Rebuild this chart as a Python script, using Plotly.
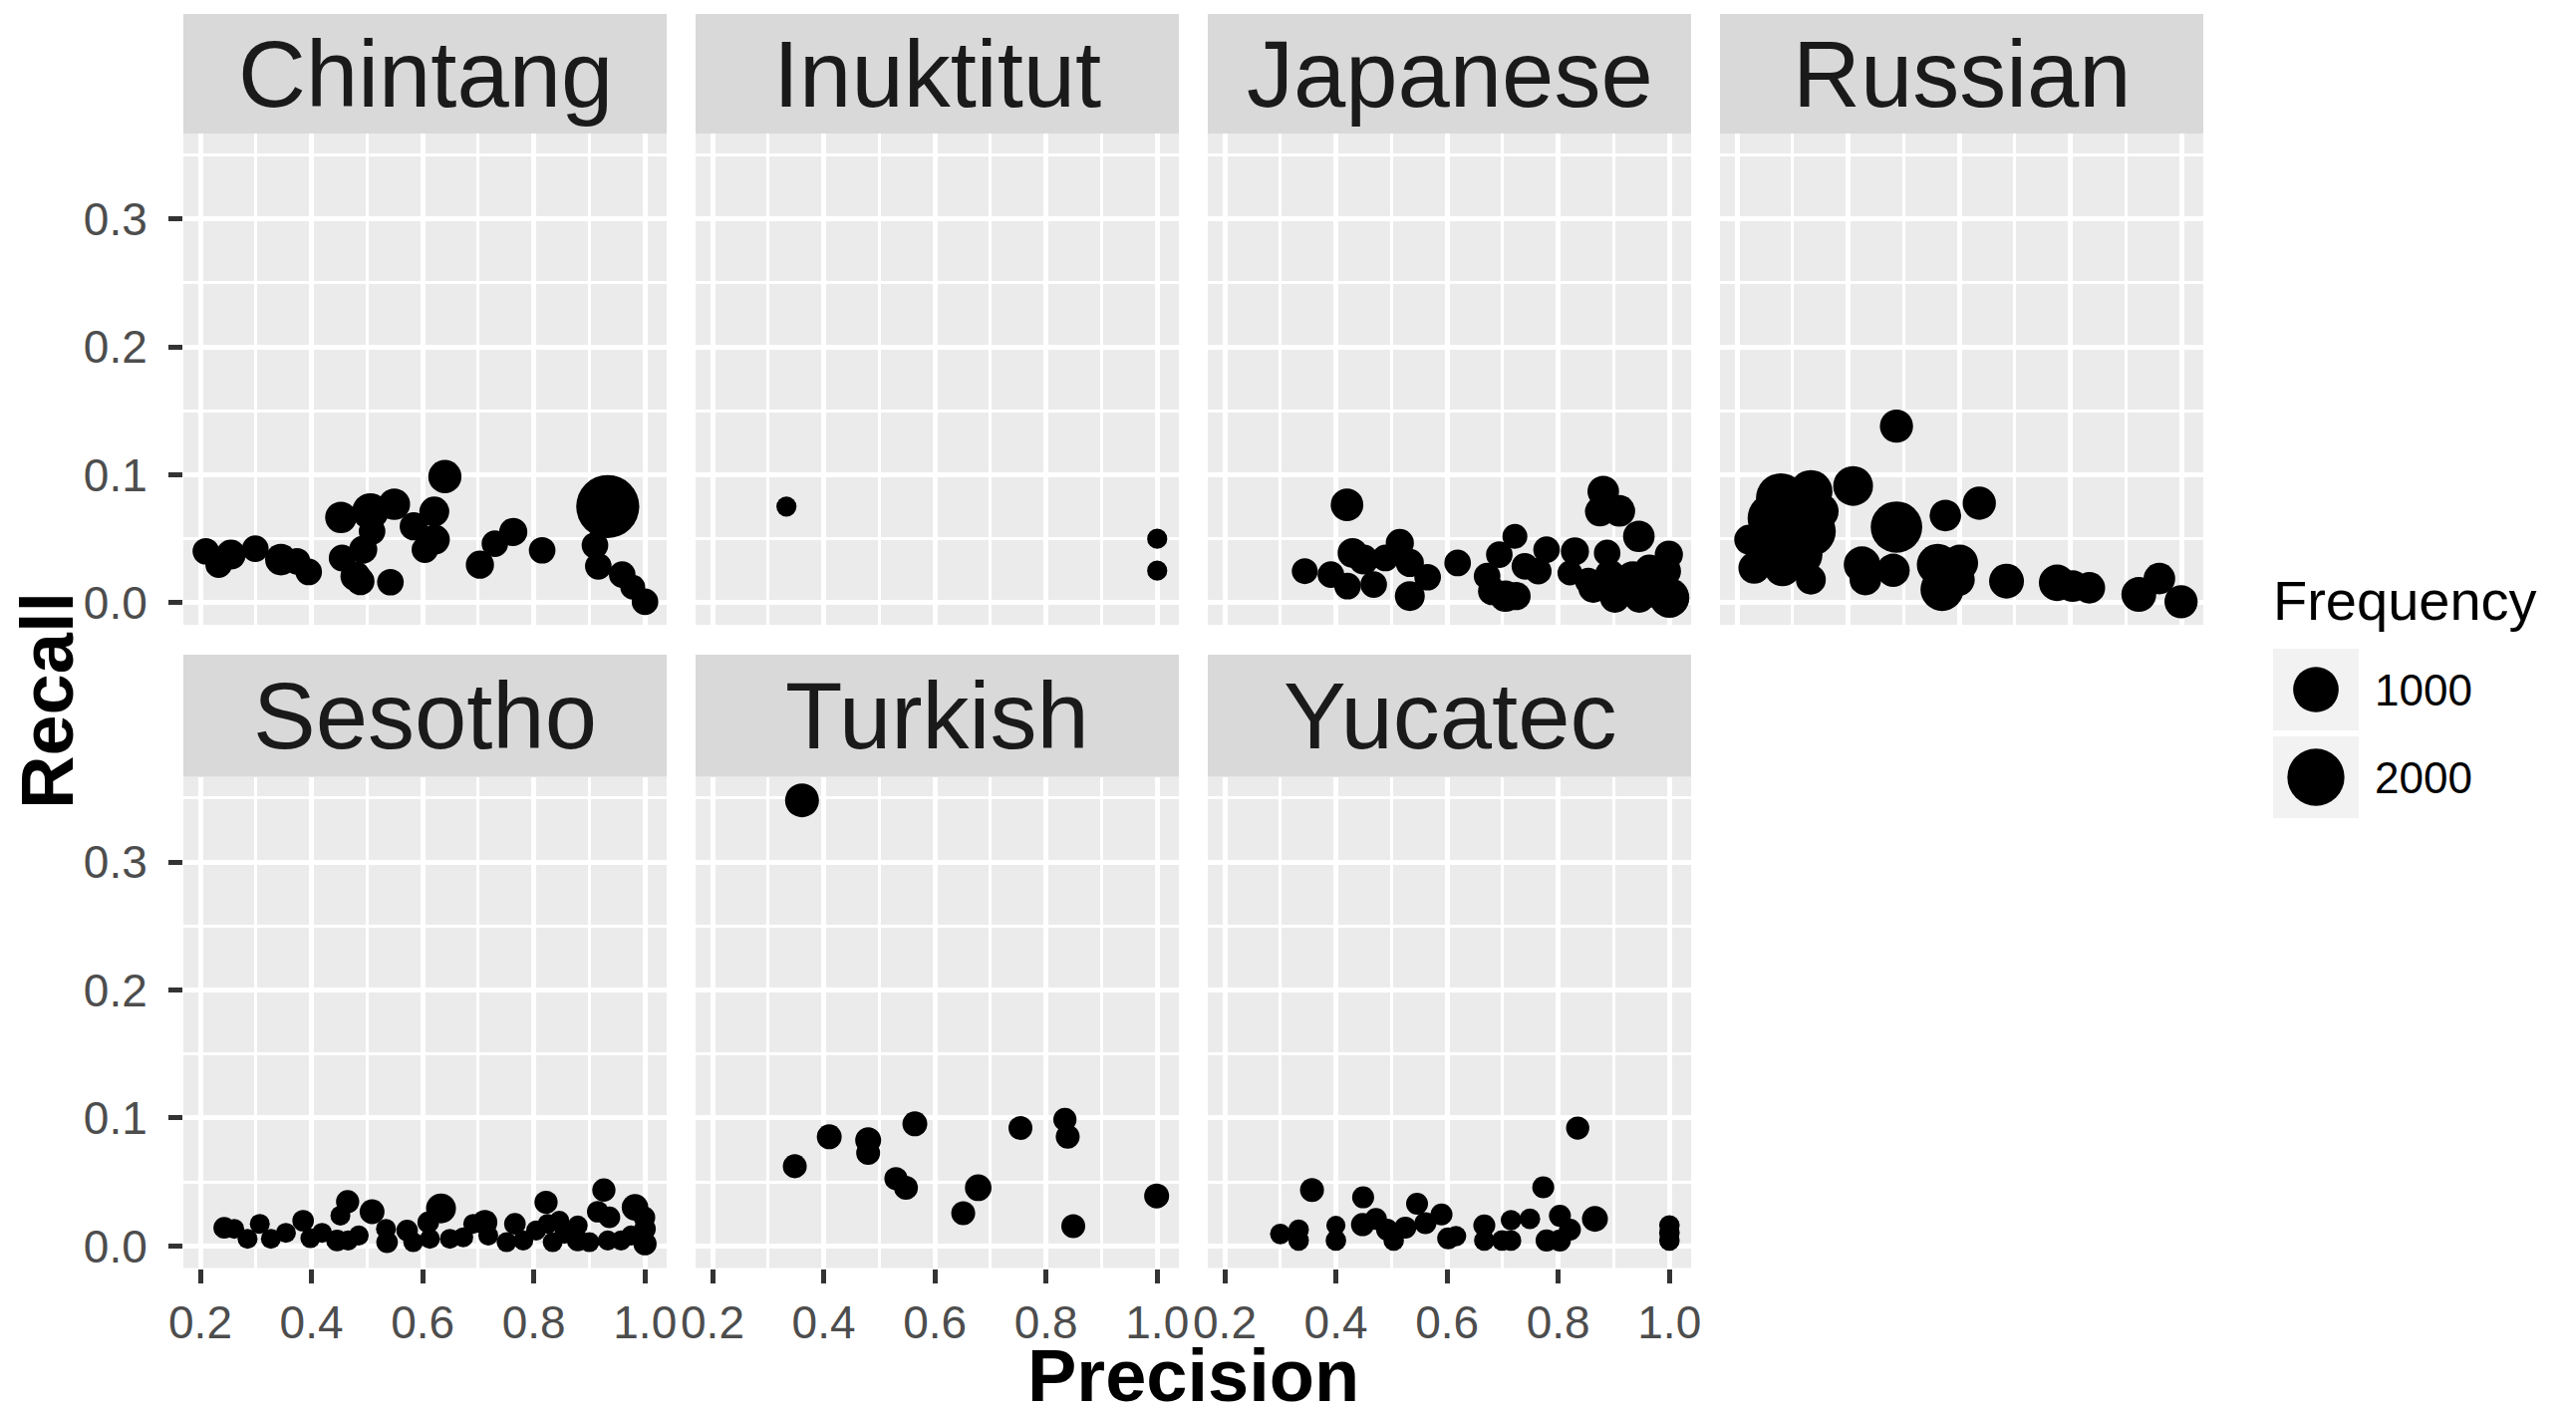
import math
import plotly.graph_objects as go

W, H = 2585, 1416
FONT = "Liberation Sans, Arial, Helvetica, sans-serif"

languages = ["Chintang", "Inuktitut", "Japanese", "Russian", "Sesotho", "Turkish", "Yucatec"]

chintang_precision = [0.210, 0.233, 0.255, 0.299, 0.345, 0.374, 0.395, 0.453, 0.506, 0.549,
                      0.509, 0.493, 0.455, 0.479, 0.488, 0.542, 0.640, 0.621, 0.584, 0.622,
                      0.604, 0.703, 0.730, 0.763, 0.815, 0.933, 0.910, 0.916, 0.959, 0.978, 1.000]
chintang_recall = [0.0402, 0.0298, 0.0376, 0.0423, 0.0337, 0.0324, 0.0241, 0.0667, 0.0713, 0.0770,
                   0.0558, 0.0415, 0.0350, 0.0208, 0.0169, 0.0161, 0.0986, 0.0713, 0.0597, 0.0493,
                   0.0415, 0.0298, 0.0462, 0.0553, 0.0410, 0.0752, 0.0449, 0.0285, 0.0220, 0.0122, 0.0008]
chintang_frequency = [103, 103, 193, 103, 250, 103, 103, 250, 460, 250,
                      103, 143, 103, 193, 143, 103, 311, 193, 143, 193,
                      103, 143, 103, 143, 103, 2652, 103, 103, 103, 68, 103]

inuktitut_precision = [0.333, 1.000, 1.000]
inuktitut_recall = [0.0752, 0.0500, 0.0251]
inuktitut_frequency = [8, 8, 8]

japanese_precision = [0.420, 0.344, 0.391, 0.430, 0.421, 0.450, 0.468, 0.489, 0.515, 0.533,
                      0.565, 0.533, 0.619, 0.722, 0.694, 0.672, 0.681, 0.705, 0.725, 0.740,
                      0.764, 0.779, 0.830, 0.821, 0.881, 0.875, 0.910, 0.888, 0.945, 0.999,
                      0.863, 0.902, 0.934, 0.964, 1.000, 0.946, 0.994, 0.893, 0.964, 0.854]
japanese_recall = [0.0765, 0.0247, 0.0220, 0.0389, 0.0130, 0.0337, 0.0143, 0.0350, 0.0467, 0.0311,
                   0.0200, 0.0052, 0.0311, 0.0519, 0.0376, 0.0208, 0.0091, 0.0052, 0.0052, 0.0285,
                   0.0247, 0.0415, 0.0402, 0.0233, 0.0869, 0.0713, 0.0718, 0.0389, 0.0519, 0.0376,
                   0.0117, 0.0039, 0.0195, 0.0091, 0.0039, 0.0039, 0.0247, 0.0220, 0.0260, 0.0169]
japanese_frequency = [287, 88, 103, 193, 103, 193, 103, 103, 143, 143,
                      103, 193, 103, 68, 103, 103, 143, 250, 143, 103,
                      103, 103, 143, 68, 250, 193, 250, 103, 250, 143,
                      193, 193, 311, 311, 634, 193, 193, 193, 193, 103]

russian_precision = [0.487, 0.409, 0.487, 0.575, 0.636, 0.425, 0.431, 0.481, 0.561, 0.601,
                     0.598, 0.569, 0.685, 0.776, 0.804, 0.834, 0.923, 0.960, 0.999,
                     0.333, 0.279, 0.264, 0.222, 0.333, 0.279, 0.231, 0.282, 0.333, 0.350,
                     0.249, 0.315, 0.309]
russian_recall = [0.1380, 0.0913, 0.0591, 0.0682, 0.0778, 0.0298, 0.0181, 0.0254, 0.0298, 0.0311,
                  0.0181, 0.0104, 0.0169, 0.0156, 0.0130, 0.0117, 0.0065, 0.0189, 0.0008,
                  0.0869, 0.0817, 0.0661, 0.0493, 0.0558, 0.0454, 0.0272, 0.0272, 0.0181, 0.0713,
                  0.0376, 0.0376, 0.0713]
russian_frequency = [311, 634, 1474, 250, 311, 460, 250, 311, 734, 460,
                     311, 836, 382, 460, 250, 250, 382, 250, 311,
                     836, 1330, 1330, 193, 1330, 1940, 250, 460, 193, 460,
                     460, 836, 1072]

sesotho_precision = [0.243, 0.261, 0.285, 0.307, 0.327, 0.354, 0.385, 0.398, 0.419, 0.446,
                     0.452, 0.465, 0.466, 0.485, 0.509, 0.536, 0.534, 0.572, 0.583, 0.610,
                     0.613, 0.633, 0.649, 0.673, 0.691, 0.712, 0.718, 0.751, 0.766, 0.781,
                     0.804, 0.822, 0.825, 0.834, 0.855, 0.879, 0.879, 0.900, 0.926, 0.915,
                     0.936, 0.933, 0.957, 0.982, 0.999, 1.000, 1.000, 0.975, 0.846]
sesotho_recall = [0.0142, 0.0134, 0.0056, 0.0173, 0.0056, 0.0103, 0.0198, 0.0061, 0.0103, 0.0043,
                  0.0237, 0.0346, 0.0043, 0.0082, 0.0268, 0.0030, 0.0134, 0.0121, 0.0030, 0.0185,
                  0.0056, 0.0294, 0.0056, 0.0068, 0.0173, 0.0185, 0.0082, 0.0030, 0.0173, 0.0043,
                  0.0121, 0.0341, 0.0173, 0.0030, 0.0095, 0.0160, 0.0043, 0.0030, 0.0437, 0.0268,
                  0.0224, 0.0043, 0.0043, 0.0302, 0.0224, 0.0134, 0.0017, 0.0082, 0.0198]
sesotho_frequency = [20, 7, 7, 7, 7, 7, 20, 7, 7, 20,
                     7, 40, 7, 7, 68, 20, 7, 20, 7, 20,
                     7, 193, 7, 7, 7, 68, 7, 7, 20, 7,
                     7, 40, 7, 7, 7, 7, 20, 7, 40, 20,
                     20, 7, 7, 103, 20, 20, 40, 7, 7]

turkish_precision = [0.361, 0.348, 0.410, 0.480, 0.480, 0.564, 0.530, 0.548, 0.651, 0.678,
                     0.754, 0.834, 0.839, 0.849, 0.999]
turkish_recall = [0.3482, 0.0623, 0.0853, 0.0826, 0.0728, 0.0954, 0.0526, 0.0455, 0.0256, 0.0455,
                  0.0921, 0.0988, 0.0853, 0.0155, 0.0391]
turkish_frequency = [339, 51, 68, 88, 51, 68, 40, 51, 51, 103,
                     51, 40, 51, 51, 68]

yucatec_precision = [0.300, 0.333, 0.333, 0.357, 0.400, 0.400, 0.449, 0.448, 0.472, 0.492,
                     0.504, 0.525, 0.546, 0.561, 0.590, 0.602, 0.616, 0.667, 0.667, 0.699,
                     0.715, 0.715, 0.749, 0.773, 0.779, 0.803, 0.803, 0.821, 0.835, 0.866,
                     1.000, 1.000, 1.000]
yucatec_recall = [0.0094, 0.0128, 0.0043, 0.0438, 0.0161, 0.0043, 0.0380, 0.0167, 0.0212, 0.0128,
                  0.0043, 0.0144, 0.0330, 0.0178, 0.0246, 0.0060, 0.0077, 0.0161, 0.0043, 0.0043,
                  0.0202, 0.0043, 0.0212, 0.0458, 0.0043, 0.0236, 0.0043, 0.0128, 0.0921, 0.0212,
                  0.0161, 0.0043, 0.0100]
yucatec_frequency = [11, 11, 11, 51, 3, 11, 24, 40, 24, 24,
                     11, 24, 24, 24, 24, 24, 11, 24, 11, 11,
                     11, 11, 11, 24, 24, 24, 24, 24, 40, 88,
                     11, 11, 11]

legend_breaks = [1000, 2000]
x_tick_values = [0.2, 0.4, 0.6, 0.8, 1.0]
x_tick_labels = ["0.2", "0.4", "0.6", "0.8", "1.0"]
y_tick_values = [0.0, 0.1, 0.2, 0.3]
y_tick_labels = ["0.0", "0.1", "0.2", "0.3"]

series = {
    "Chintang": (chintang_precision, chintang_recall, chintang_frequency),
    "Inuktitut": (inuktitut_precision, inuktitut_recall, inuktitut_frequency),
    "Japanese": (japanese_precision, japanese_recall, japanese_frequency),
    "Russian": (russian_precision, russian_recall, russian_frequency),
    "Sesotho": (sesotho_precision, sesotho_recall, sesotho_frequency),
    "Turkish": (turkish_precision, turkish_recall, turkish_frequency),
    "Yucatec": (yucatec_precision, yucatec_recall, yucatec_frequency),
}


def size_px(f):
    # area-style size scale (diameter in px)
    return 17.7 + 0.8855 * math.sqrt(f)


# layout geometry (pixels)
col_px = [(184, 669), (698, 1183), (1212, 1697), (1726, 2211)]
row_px = [(134, 627), (779.5, 1272.5)]
strip_px = [(14, 134), (657, 779.5)]
X_RANGE = [0.1695, 1.039]
Y_RANGE = [-0.0172, 0.3666]


def fx(p):
    return p / W


def fy(p):
    return 1 - p / H


fig = go.Figure()
layout = dict(
    width=W, height=H,
    margin=dict(l=0, r=0, t=0, b=0, autoexpand=False),
    paper_bgcolor="white",
    plot_bgcolor="rgba(0,0,0,0)",
    showlegend=False,
    font=dict(family=FONT),
)
shapes = []
annotations = []

for i, lang in enumerate(languages):
    row, col = divmod(i, 4)
    xn = "x" if i == 0 else f"x{i+1}"
    yn = "y" if i == 0 else f"y{i+1}"
    xk = "xaxis" if i == 0 else f"xaxis{i+1}"
    yk = "yaxis" if i == 0 else f"yaxis{i+1}"
    c0, c1 = col_px[col]
    r0, r1 = row_px[row]
    s0, s1 = strip_px[row]
    show_x = row == 1
    show_y = col == 0
    layout[xk] = dict(
        domain=[fx(c0), fx(c1)], range=X_RANGE, anchor=yn, automargin=False,
        tickmode="array", tickvals=x_tick_values, ticktext=x_tick_labels,
        showticklabels=show_x, ticks="outside" if show_x else "",
        ticklen=14, tickwidth=5, tickcolor="#333333",
        ticklabelstandoff=0,
        tickfont=dict(family=FONT, size=46, color="#4d4d4d"),
        showgrid=True, gridcolor="white", gridwidth=5,
        minor=dict(tickvals=[0.3, 0.5, 0.7, 0.9], showgrid=True, gridcolor="white", gridwidth=2.5, ticks=""),
        zeroline=False, showline=False, fixedrange=True,
    )
    layout[yk] = dict(
        domain=[fy(r1), fy(r0)], range=Y_RANGE, anchor=xn, automargin=False,
        tickmode="array", tickvals=y_tick_values, ticktext=y_tick_labels,
        showticklabels=show_y, ticks="outside" if show_y else "",
        ticklen=14, tickwidth=5, tickcolor="#333333",
        ticklabelstandoff=12,
        tickfont=dict(family=FONT, size=46, color="#4d4d4d"),
        showgrid=True, gridcolor="white", gridwidth=5,
        minor=dict(tickvals=[0.05, 0.15, 0.25, 0.35], showgrid=True, gridcolor="white", gridwidth=2.5, ticks=""),
        zeroline=False, showline=False, fixedrange=True,
    )
    # panel background
    shapes.append(dict(type="rect", xref="paper", yref="paper", layer="below",
                       x0=fx(c0), x1=fx(c1), y0=fy(r1), y1=fy(r0),
                       fillcolor="#ebebeb", line=dict(width=0)))
    # strip
    shapes.append(dict(type="rect", xref="paper", yref="paper", layer="below",
                       x0=fx(c0), x1=fx(c1), y0=fy(s1), y1=fy(s0),
                       fillcolor="#d9d9d9", line=dict(width=0)))
    annotations.append(dict(text=lang, xref="paper", yref="paper",
                            x=fx((c0 + c1) / 2), y=fy((s0 + s1) / 2),
                            xanchor="center", yanchor="middle", showarrow=False,
                            font=dict(family=FONT, size=94, color="#1a1a1a")))
    prec, rec, freq = series[lang]
    fig.add_trace(go.Scatter(
        x=prec, y=rec, mode="markers", xaxis=xn, yaxis=yn,
        marker=dict(color="black", opacity=1, size=[size_px(f) for f in freq], sizemode="diameter",
                    line=dict(width=0)),
        hoverinfo="skip",
    ))

# legend (drawn on a hidden axis pair)
layout["xaxis8"] = dict(domain=[fx(2281), fx(2367)], range=[-0.5, 0.5], visible=False,
                        anchor="y8", fixedrange=True, automargin=False)
layout["yaxis8"] = dict(domain=[fy(824), fy(648)], range=[1.5, -0.5], visible=False,
                        anchor="x8", fixedrange=True, automargin=False)
for k, b in enumerate(legend_breaks):
    shapes.append(dict(type="rect", xref="x8", yref="y8", layer="below",
                       x0=-0.5, x1=0.5, y0=k - 0.466, y1=k + 0.466,
                       fillcolor="#f2f2f2", line=dict(width=0)))
    annotations.append(dict(text=str(b), xref="paper", yref="y8", x=fx(2381), y=k,
                            xanchor="left", yanchor="middle", showarrow=False,
                            font=dict(family=FONT, size=44, color="black")))
fig.add_trace(go.Scatter(
    x=[0] * len(legend_breaks), y=list(range(len(legend_breaks))), mode="markers",
    xaxis="x8", yaxis="y8",
    marker=dict(color="black", opacity=1, size=[size_px(b) for b in legend_breaks], sizemode="diameter",
                line=dict(width=0)),
    hoverinfo="skip", cliponaxis=False,
))
annotations.append(dict(text="Frequency", xref="paper", yref="paper", x=fx(2279), y=fy(602),
                        xanchor="left", yanchor="middle", showarrow=False,
                        font=dict(family=FONT, size=56, color="black")))

# axis titles
annotations.append(dict(text="<b>Precision</b>", xref="paper", yref="paper",
                        x=fx((184 + 2211) / 2), y=fy(1380), xanchor="center", yanchor="middle",
                        showarrow=False, font=dict(family=FONT, size=74, color="black")))
annotations.append(dict(text="<b>Recall</b>", xref="paper", yref="paper",
                        x=fx(47), y=fy(703), xanchor="center", yanchor="middle", textangle=-90,
                        showarrow=False, font=dict(family=FONT, size=74, color="black")))

layout["shapes"] = shapes
layout["annotations"] = annotations
fig.update_layout(**layout)
fig.write_html("out.html")
